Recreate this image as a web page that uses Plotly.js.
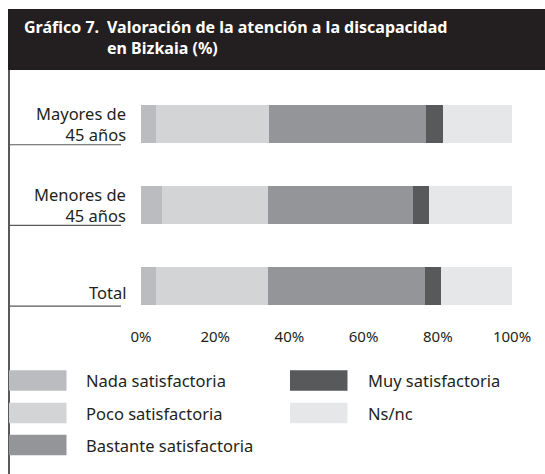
<!DOCTYPE html>
<html>
<head>
<meta charset="utf-8">
<script src="https://cdn.plot.ly/plotly-3.0.1.min.js"></script>
<style>html,body{margin:0;padding:0;background:#fff;}#chart{width:545px;height:474px;}</style>
</head>
<body>
<div id="chart"></div>
<script>
// Data
const categories = ["Total", "Menores de<br>45 años", "Mayores de<br>45 años"];
const seriesNames = ["Nada satisfactoria", "Poco satisfactoria", "Bastante satisfactoria", "Muy satisfactoria", "Ns/nc"];
const nada     = [4.1, 5.6, 4.1];
const poco     = [30.2, 28.5, 30.3];
const bastante = [42.3, 39.2, 42.4];
const muy      = [4.2, 4.4, 4.6];
const nsnc     = [19.2, 22.3, 18.6];
const tickVals = [0, 20, 40, 60, 80, 100];
const tickText = ["0%", "20%", "40%", "60%", "80%", "100%"];

const colors = ["#bbbcbf", "#d3d4d6", "#939598", "#58595b", "#e6e7e8"];
const allSeries = [nada, poco, bastante, muy, nsnc];
const FONT = "Noto Sans, sans-serif";
const TXT = "#231f20";

const W = 545, H = 474;
const M = {l: 141, r: 33, t: 84, b: 148};
const PW = W - M.l - M.r, PH = H - M.t - M.b;
const px = x => (x - M.l) / PW;
const py = y => (H - M.b - y) / PH;

const yIdx = categories.map((c, i) => i);

const traces = allSeries.map((vals, k) => ({
  type: "bar",
  orientation: "h",
  name: seriesNames[k],
  y: yIdx,
  x: vals,
  width: 0.475,
  marker: {color: colors[k], line: {width: 0}},
  showlegend: false,
  hoverinfo: "x+name"
}));

const shapes = [];
const annotations = [];

// Title banner
shapes.push({type: "rect", xref: "paper", yref: "paper", x0: px(8), x1: px(546), y0: py(70), y1: py(9), fillcolor: "#231f20", line: {width: 0}, layer: "below"});
// Left vertical rule
shapes.push({type: "line", xref: "paper", yref: "paper", x0: px(9), x1: px(9), y0: py(70), y1: py(475), line: {color: "#231f20", width: 1.5}});

annotations.push({xref: "paper", yref: "paper", x: px(22), y: py(27), xanchor: "left", yanchor: "middle", showarrow: false,
  text: "<b>Gráfico 7.</b>", font: {family: FONT, size: 16, color: "#ffffff"}});

// Category labels and rules
categories.forEach((c, i) => {
  annotations.push({xref: "paper", yref: "y", x: px(128), y: i, xanchor: "right", yanchor: "middle", align: "right",
    showarrow: false, text: c, yshift: c.indexOf("<br>") < 0 ? -7 : 0,
    font: {family: FONT, size: 16.5, color: TXT}});
  shapes.push({type: "line", xref: "paper", yref: "y", x0: px(9), x1: px(121), y0: i - 0.253, y1: i - 0.253,
    line: {color: "#58595b", width: 1.2}});
});

// Legend (built from series names / colours)
const legPos = [[9, 380.5, 84], [9, 413, 84], [9, 445, 84], [290, 380.5, 366], [290, 413, 366]];
seriesNames.forEach((n, k) => {
  const [sx, cy, tx] = legPos[k];
  shapes.push({type: "rect", xref: "paper", yref: "paper", x0: px(sx), x1: px(sx + 57.5), y0: py(cy + 10.3), y1: py(cy - 10.3),
    fillcolor: colors[k], line: {width: 0}});
  annotations.push({xref: "paper", yref: "paper", x: px(tx), y: py(cy), xanchor: "left", yanchor: "middle", showarrow: false,
    text: n, font: {family: FONT, size: 16.5, color: TXT}});
});

const layout = {
  width: W, height: H,
  margin: M,
  paper_bgcolor: "#ffffff", plot_bgcolor: "#ffffff",
  barmode: "stack",
  bargap: 0,
  title: {text: "<b>Valoración de la atención a la discapacidad<br>en Bizkaia (%)</b>", xref: "container", yref: "container",
    x: 107 / W, xanchor: "left", y: 1 - 33 / H, yanchor: "middle",
    font: {family: FONT, size: 16, color: "#ffffff"}},
  xaxis: {range: [0, 100], tickvals: tickVals, ticktext: tickText, showgrid: false, zeroline: false, showline: false,
    ticks: "", fixedrange: true, tickfont: {family: FONT, size: 15, color: TXT}, ticklabelstandoff: 0},
  yaxis: {range: [-0.5, 2.5], showticklabels: false, showgrid: false, zeroline: false, showline: false, ticks: "", fixedrange: true},
  shapes: shapes,
  annotations: annotations,
  showlegend: false
};

Plotly.newPlot("chart", traces, layout, {displayModeBar: false, staticPlot: true});
</script>
</body>
</html>
